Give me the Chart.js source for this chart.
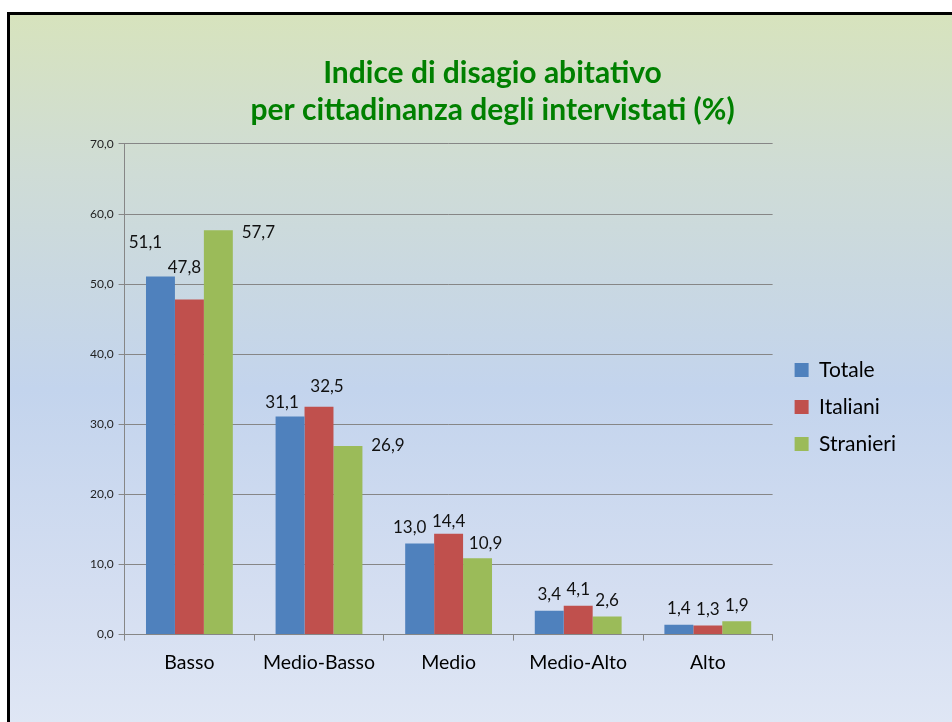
<!DOCTYPE html>
<html>
<head>
<meta charset="utf-8">
<script src="https://cdn.jsdelivr.net/npm/chart.js@4.4.1/dist/chart.umd.min.js"></script>
<style>
  html, body { margin: 0; padding: 0; background: #ffffff; width: 952px; height: 722px; overflow: hidden; }
  #frame {
    position: absolute; left: 7px; top: 12px; width: 960px; height: 720px;
    border-left: 3px solid #000; border-top: 3px solid #000;
    background: linear-gradient(to bottom, #d7e3bd 0%, #cfdcd6 22%, #c3d4ed 52%, #d4def1 80%, #e0e7f5 100%);
  }
  #wrap { position: absolute; left: 0; top: 0; width: 952px; height: 722px; }
</style>
</head>
<body>
<div id="frame"></div>
<div id="wrap"><canvas id="chart" width="952" height="722"></canvas></div>
<script>
const categories = ['Basso', 'Medio-Basso', 'Medio', 'Medio-Alto', 'Alto'];
const totale = [51.1, 31.1, 13.0, 3.4, 1.4];
const italiani = [47.8, 32.5, 14.4, 4.1, 1.3];
const stranieri = [57.7, 26.9, 10.9, 2.6, 1.9];
const titleLines = ['Indice di disagio abitativo', 'per cittadinanza degli intervistati (%)'];

const FONT = 'Lato, "Open Sans", sans-serif';

// etichette spostate a mano come nell'originale [dx, dy]
const labelNudge = [
    [[-15, -18], [-8, 2], [-10, 0], [0, 0], [0, 0]],
    [[-5, -16], [8, -4], [0, 4], [0, 0], [0, 0]],
    [[40, 18], [40, 15], [8, 1], [0, 0], [0, 0]]
];

function fmt(v) {
    return v.toFixed(1).replace('.', ',');
}

const valueLabels = {
    id: 'valueLabels',
    afterDatasetsDraw(chart) {
        const c = chart.ctx;
        c.save();
        c.font = '17px ' + FONT;
        c.fillStyle = '#111111';
        c.textAlign = 'center';
        c.textBaseline = 'middle';
        chart.data.datasets.forEach((ds, i) => {
            const meta = chart.getDatasetMeta(i);
            meta.data.forEach((bar, j) => {
                const n = labelNudge[i][j];
                c.fillText(fmt(ds.data[j]), bar.x + n[0], bar.y - 16 + n[1]);
            });
        });
        c.restore();
    }
};

// sposta la legenda rispetto alla posizione calcolata da Chart.js
const legendShift = {
    id: 'legendShift',
    afterLayout(chart) {
        const lg = chart.legend;
        if (!lg) return;
        lg.left += 6; lg.right += 6;
        lg.top += 65; lg.bottom += 65;
    }
};

const ctx = document.getElementById('chart').getContext('2d');

new Chart(ctx, {
    type: 'bar',
    data: {
        labels: categories,
        datasets: [
            { label: 'Totale', data: totale, backgroundColor: '#4f81bd' },
            { label: 'Italiani', data: italiani, backgroundColor: '#c0504d' },
            { label: 'Stranieri', data: stranieri, backgroundColor: '#9bbb59' }
        ]
    },
    options: {
        responsive: false,
        animation: false,
        categoryPercentage: 0.67,
        barPercentage: 1.0,
        layout: { padding: { left: 85, right: 52, top: 0, bottom: 38 } },
        plugins: {
            title: {
                display: true,
                text: titleLines,
                color: '#008000',
                font: { family: FONT, size: 30, weight: 'bold', lineHeight: 1.233 },
                padding: { top: 55, bottom: 15 }
            },
            legend: {
                position: 'right',
                labels: {
                    boxWidth: 14,
                    boxHeight: 14,
                    padding: 16,
                    color: '#000000',
                    font: { family: FONT, size: 21 }
                }
            },
            tooltip: { enabled: false }
        },
        scales: {
            x: {
                grid: { drawOnChartArea: false, drawTicks: true, tickLength: 6, color: '#868686' },
                border: { color: '#868686' },
                ticks: { color: '#000000', padding: 10, font: { family: FONT, size: 19.5 } }
            },
            y: {
                min: 0,
                max: 70,
                ticks: {
                    stepSize: 10,
                    color: '#222222',
                    padding: 5,
                    font: { family: FONT, size: 12 },
                    callback: v => fmt(v)
                },
                grid: { color: '#868686', tickLength: 6 },
                border: { color: '#868686' }
            }
        }
    },
    plugins: [valueLabels, legendShift]
});
</script>
</body>
</html>
